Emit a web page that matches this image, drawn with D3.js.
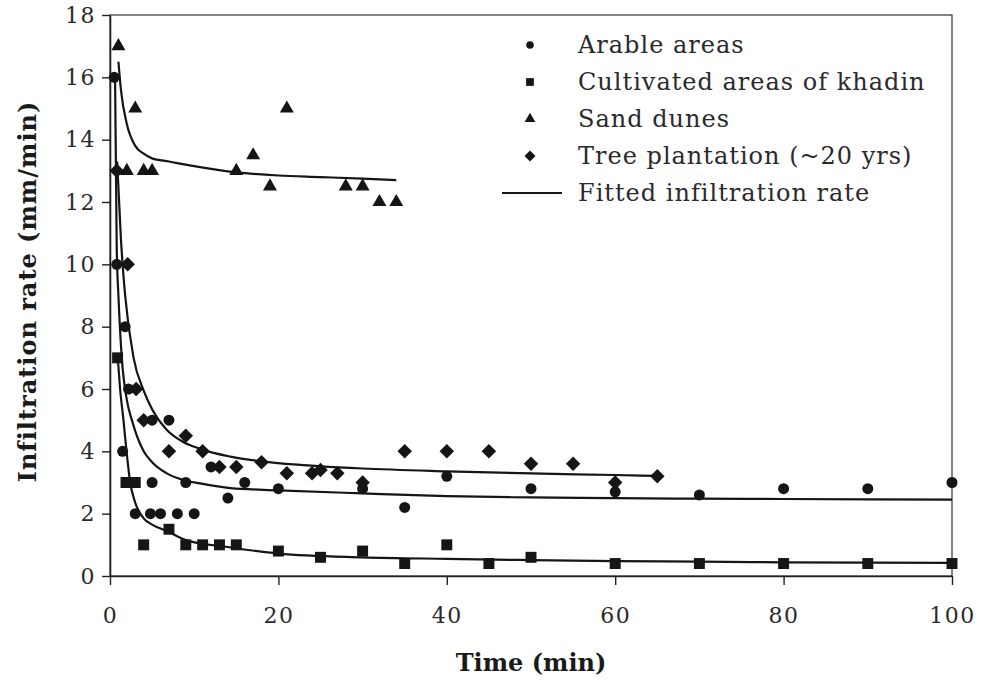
<!DOCTYPE html>
<html>
<head>
<meta charset="utf-8">
<script src="https://cdn.jsdelivr.net/npm/d3@7"></script>
<style>
  body { margin: 0; background: #fff; }
  svg { display: block; }
</style>
</head>
<body>
<div id="chart"></div>
<script>
// observed points (time in min, rate in mm/min)
var arableTime = [0.5, 0.8, 1.5, 1.8, 2.2, 3, 5, 5, 4.8, 6, 7, 8, 9, 10, 12, 14, 16, 20, 30, 35, 40, 50, 60, 70, 80, 90, 100];
var arableRate = [16, 10, 4, 8, 6, 2, 5, 3, 2, 2, 5, 2, 3, 2, 3.5, 2.5, 3, 2.8, 2.8, 2.2, 3.2, 2.8, 2.7, 2.6, 2.8, 2.8, 3];

var khadinTime = [0.9, 1.9, 3, 4, 7, 9, 11, 13, 15, 20, 25, 30, 35, 40, 45, 50, 60, 70, 80, 90, 100];
var khadinRate = [7, 3, 3, 1, 1.5, 1, 1, 1, 1, 0.8, 0.6, 0.8, 0.4, 1, 0.4, 0.6, 0.4, 0.4, 0.4, 0.4, 0.4];

var duneTime = [1, 2, 3, 4, 5, 15, 17, 19, 21, 28, 30, 32, 34];
var duneRate = [17, 13, 15, 13, 13, 13, 13.5, 12.5, 15, 12.5, 12.5, 12, 12];

var treeTime = [0.8, 2.1, 3.1, 4, 7, 9, 11, 13, 15, 18, 21, 24, 25, 27, 30, 35, 40, 45, 50, 55, 60, 65];
var treeRate = [13, 10, 6, 5, 4, 4.5, 4, 3.5, 3.5, 3.65, 3.3, 3.3, 3.4, 3.3, 3, 4, 4, 4, 3.6, 3.6, 3, 3.2];

// fitted curves
var arableFitTime = [0.6, 0.8, 1, 1.4, 2, 2.6, 4, 5, 6.7, 8.7, 10.7, 14.3, 20, 30, 40, 50, 60, 70, 80, 100];
var arableFitRate = [16, 10.5, 9, 7, 5.65, 5, 4, 3.65, 3.3, 3.08, 2.97, 2.82, 2.75, 2.65, 2.56, 2.52, 2.5, 2.48, 2.47, 2.45];

var khadinFitTime = [0.95, 1.2, 1.6, 2, 2.4, 3, 4, 5, 6.7, 9, 14, 20, 30, 40, 50, 60, 70, 80, 100];
var khadinFitRate = [6.9, 6, 5, 3.9, 3, 2.35, 1.85, 1.65, 1.45, 1.15, 0.93, 0.72, 0.6, 0.55, 0.51, 0.48, 0.46, 0.44, 0.42];

var duneFitTime = [1, 1.3, 2, 3, 4, 5, 7, 10, 15, 20, 25, 30, 34];
var duneFitRate = [16.5, 15.6, 14.5, 13.8, 13.55, 13.4, 13.3, 13.15, 12.95, 12.85, 12.8, 12.75, 12.7];

var treeFitTime = [0.85, 1.3, 1.8, 2.8, 4, 5, 6.7, 8.7, 10.7, 14.3, 20, 25, 30, 40, 50, 60, 65];
var treeFitRate = [13.3, 10.8, 9, 7, 5.95, 5.35, 4.7, 4.3, 4.08, 3.83, 3.62, 3.52, 3.45, 3.36, 3.29, 3.24, 3.21];

var xTicks = [0, 20, 40, 60, 80, 100];
var yTicks = [0, 2, 4, 6, 8, 10, 12, 14, 16, 18];

var legendLabels = ["Arable areas", "Cultivated areas of khadin", "Sand dunes", "Tree plantation (~20 yrs)", "Fitted infiltration rate"];

var width = 981,
    height = 680,
    margin = {top: 15, right: 29, bottom: 104, left: 110};

var ink = "#151515";
var serif = "'DejaVu Serif', serif";

function zip(xs, ys) {
    return xs.map(function(x, i) { return {t: x, v: ys[i]}; });
}

// square diamond (d3's symbolDiamond is too narrow)
var squareDiamond = {
    draw: function(context, size) {
        var r = Math.sqrt(size) / Math.SQRT2;
        context.moveTo(0, -r);
        context.lineTo(r, 0);
        context.lineTo(0, r);
        context.lineTo(-r, 0);
        context.closePath();
    }
};

var svg = d3.select("#chart").append("svg")
    .attr("width", width)
    .attr("height", height);

var x = d3.scaleLinear().domain([0, 100]).range([margin.left, width - margin.right]);
var y = d3.scaleLinear().domain([0, 18]).range([height - margin.bottom, margin.top]);

// frame
svg.append("rect")
    .attr("x", x(0))
    .attr("y", y(18))
    .attr("width", x(100) - x(0))
    .attr("height", y(0) - y(18))
    .style("fill", "none")
    .style("stroke", "#333")
    .style("stroke-width", 1.2);

// axes
var xAxis = svg.append("g")
    .attr("transform", "translate(0," + y(0) + ")")
    .call(d3.axisBottom(x).tickValues(xTicks).tickSize(9).tickSizeOuter(0).tickPadding(22));

var yAxis = svg.append("g")
    .attr("transform", "translate(" + x(0) + ",0)")
    .call(d3.axisLeft(y).tickValues(yTicks).tickSize(8).tickSizeOuter(0).tickPadding(6));

[xAxis, yAxis].forEach(function(g) {
    g.select(".domain").style("stroke", "#222").style("stroke-width", 1.6);
    g.selectAll(".tick line").style("stroke", "#222").style("stroke-width", 1.4);
    g.selectAll(".tick text")
        .style("font-family", serif)
        .style("font-size", "22px")
        .style("letter-spacing", "1.5px")
        .style("fill", "#2a2a2a");
});

// fitted lines
var line = d3.line()
    .x(function(d) { return x(d.t); })
    .y(function(d) { return y(d.v); })
    .curve(d3.curveMonotoneX);

var fits = [
    zip(arableFitTime, arableFitRate),
    zip(khadinFitTime, khadinFitRate),
    zip(duneFitTime, duneFitRate),
    zip(treeFitTime, treeFitRate)
];

svg.append("g").selectAll("path")
    .data(fits)
    .enter()
    .append("path")
    .attr("d", line)
    .style("fill", "none")
    .style("stroke", ink)
    .style("stroke-width", 2.2);

// markers
var series = [
    {pts: zip(arableTime, arableRate), shape: d3.symbolCircle, size: 95},
    {pts: zip(khadinTime, khadinRate), shape: d3.symbolSquare, size: 120},
    {pts: zip(duneTime, duneRate), shape: d3.symbolTriangle, size: 85},
    {pts: zip(treeTime, treeRate), shape: squareDiamond, size: 105}
];

series.forEach(function(s) {
    var sym = d3.symbol().type(s.shape).size(s.size);
    svg.append("g").selectAll("path")
        .data(s.pts)
        .enter()
        .append("path")
        .attr("d", sym)
        .attr("transform", function(d) {
            return "translate(" + x(d.t) + "," + y(d.v) + ")";
        })
        .style("fill", ink);
});

// legend
var legend = svg.append("g")
    .attr("transform", "translate(530,45)");

var legendSizes = [45, 60, 50, 60];

var rows = legend.selectAll("g")
    .data(legendLabels)
    .enter()
    .append("g")
    .attr("transform", function(d, i) { return "translate(0," + i * 37 + ")"; });

rows.each(function(d, i) {
    var row = d3.select(this);
    if (i < 4) {
        row.append("path")
            .attr("d", d3.symbol().type(series[i].shape).size(legendSizes[i]))
            .style("fill", ink);
    } else {
        row.append("line")
            .attr("x1", -28).attr("x2", 32)
            .style("stroke", ink)
            .style("stroke-width", 2);
    }
    row.append("text")
        .attr("x", 48)
        .attr("dy", "0.35em")
        .text(d)
        .style("font-family", serif)
        .style("font-size", "24px")
        .style("letter-spacing", "1px")
        .style("fill", "#2a2a2a");
});

// axis titles
svg.append("text")
    .attr("x", (x(0) + x(100)) / 2)
    .attr("y", 671)
    .attr("text-anchor", "middle")
    .text("Time (min)")
    .style("font-family", serif)
    .style("font-weight", "bold")
    .style("font-size", "24px")
    .style("fill", "#1a1a1a");

svg.append("text")
    .attr("transform", "translate(36," + (y(9) - 4) + ") rotate(-90)")
    .attr("text-anchor", "middle")
    .text("Infiltration rate (mm/min)")
    .style("font-family", serif)
    .style("font-weight", "bold")
    .style("font-size", "24px")
    .style("letter-spacing", "1px")
    .style("fill", "#1a1a1a");
</script>
</body>
</html>
